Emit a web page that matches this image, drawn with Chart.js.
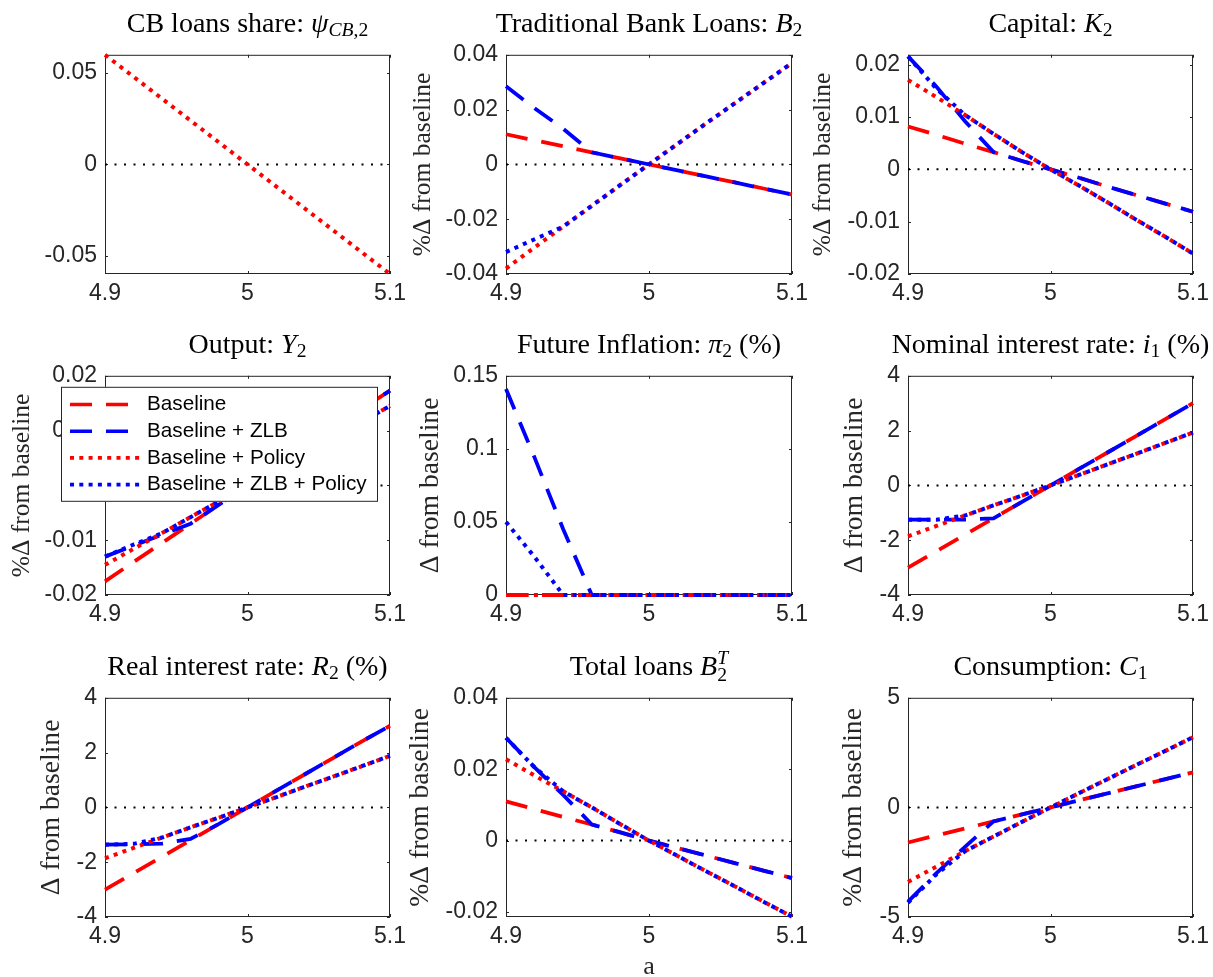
<!DOCTYPE html>
<html>
<head>
<meta charset="utf-8">
<script src="https://cdn.jsdelivr.net/npm/chart.js@4.4.1/dist/chart.umd.min.js"></script>
<style>
	body { margin: 0; background: #fff; width: 1213px; height: 977px; overflow: hidden; position: relative; }
	canvas { position: absolute; }
	.title { position: absolute; width: 600px; height: 28px; text-align: center; white-space: nowrap;
		font: 28px/28px "Liberation Serif", serif; color: #000; }
	.title sub, .title sup { font-size: 70%; vertical-align: baseline; position: relative; line-height: 0; }
	.title sub { top: 0.22em; }
	.title sub.low { top: 0.3em; }
	.title sup { top: -0.54em; margin-left: -0.5em; }
</style>
</head>
<body>
<div id="fig"></div>
<script>
// grid of the parameter a
const xs = [4.90, 4.92, 4.94, 4.96, 4.98, 5.00, 5.02, 5.04, 5.06, 5.08, 5.10];
const xTicks = [4.9, 5, 5.1];
const zeroLine = [0, 0, 0, 0, 0, 0, 0, 0, 0, 0, 0];
const seriesNames = ['Baseline', 'Baseline + ZLB', 'Baseline + Policy', 'Baseline + ZLB + Policy'];

// CB loans share
const psiPolicy = [0.06, 0.048, 0.036, 0.024, 0.012, 0, -0.012, -0.024, -0.036, -0.048, -0.06];
const psiTicks = [-0.05, 0, 0.05];

// traditional bank loans
const bankBase = [0.011, 0.0088, 0.0066, 0.0044, 0.0022, 0, -0.0022, -0.0044, -0.0066, -0.0088, -0.011];
const bankZlb = [0.0285, 0.0205, 0.013, 0.0044, 0.0022, 0, -0.0022, -0.0044, -0.0066, -0.0088, -0.011];
const bankPolicy = [-0.038, -0.0303, -0.0227, -0.0151, -0.0075, 0, 0.0075, 0.015, 0.0223, 0.0297, 0.037];
const bankZlbPolicy = [-0.032, -0.0273, -0.0227, -0.0151, -0.0075, 0, 0.0075, 0.015, 0.0223, 0.0297, 0.037];
const bankTicks = [-0.04, -0.02, 0, 0.02, 0.04];

// capital
const capBase = [0.0082, 0.0066, 0.0049, 0.0033, 0.0016, 0, -0.0016, -0.0033, -0.0049, -0.0065, -0.0081];
const capZlb = [0.0216, 0.0158, 0.0092, 0.0033, 0.0016, 0, -0.0016, -0.0033, -0.0049, -0.0065, -0.0081];
const capPolicy = [0.0171, 0.0138, 0.0104, 0.0068, 0.0033, 0, -0.0031, -0.0063, -0.0096, -0.0128, -0.0161];
const capZlbPolicy = [0.0216, 0.0154, 0.0104, 0.0068, 0.0033, 0, -0.0031, -0.0063, -0.0096, -0.0128, -0.0161];
const capTicks = [-0.02, -0.01, 0, 0.01, 0.02];

// output
const outBase = [-0.0175, -0.014, -0.0105, -0.007, -0.0035, 0, 0.0035, 0.007, 0.0104, 0.0139, 0.0173];
const outZlb = [-0.013, -0.011, -0.009, -0.007, -0.0035, 0, 0.0035, 0.007, 0.0104, 0.0139, 0.0173];
const outPolicy = [-0.0145, -0.0116, -0.0087, -0.0058, -0.0029, 0, 0.0029, 0.0058, 0.0087, 0.0116, 0.0145];
const outZlbPolicy = [-0.013, -0.0108, -0.0087, -0.0058, -0.0029, 0, 0.0029, 0.0058, 0.0087, 0.0116, 0.0145];
const outTicks = [-0.02, -0.01, 0, 0.01, 0.02];

// future inflation
const infBase = [0, 0, 0, 0, 0, 0, 0, 0, 0, 0, 0];
const infZlb = [0.141, 0.094, 0.045, 0, 0, 0, 0, 0, 0, 0, 0];
const infPolicy = [0, 0, 0, 0, 0, 0, 0, 0, 0, 0, 0];
const infZlbPolicy = [0.05, 0.026, 0, 0, 0, 0, 0, 0, 0, 0, 0];
const infTicks = [0, 0.05, 0.1, 0.15];

// nominal interest rate
const nomBase = [-3, -2.4, -1.8, -1.2, -0.6, 0, 0.6, 1.2, 1.8, 2.4, 3];
const nomZlb = [-1.25, -1.25, -1.25, -1.2, -0.6, 0, 0.6, 1.2, 1.8, 2.4, 3];
const nomPolicy = [-1.86, -1.48, -1.1, -0.73, -0.37, 0, 0.38, 0.77, 1.15, 1.54, 1.93];
const nomZlbPolicy = [-1.25, -1.25, -1.1, -0.73, -0.37, 0, 0.38, 0.77, 1.15, 1.54, 1.93];
const rateTicks = [-4, -2, 0, 2, 4];

// real interest rate
const realBase = [-3, -2.4, -1.8, -1.2, -0.6, 0, 0.6, 1.2, 1.8, 2.4, 2.98];
const realZlb = [-1.36, -1.35, -1.32, -1.15, -0.6, 0, 0.6, 1.2, 1.8, 2.4, 2.98];
const realPolicy = [-1.86, -1.48, -1.1, -0.73, -0.37, 0, 0.37, 0.75, 1.12, 1.5, 1.88];
const realZlbPolicy = [-1.36, -1.33, -1.1, -0.73, -0.37, 0, 0.37, 0.75, 1.12, 1.5, 1.88];

// total loans
const totBase = [0.011, 0.0088, 0.0066, 0.0045, 0.0023, 0, -0.0021, -0.0042, -0.0063, -0.0084, -0.0105];
const totZlb = [0.0288, 0.0205, 0.0128, 0.0045, 0.0023, 0, -0.0021, -0.0042, -0.0063, -0.0084, -0.0105];
const totPolicy = [0.0228, 0.0182, 0.0138, 0.0093, 0.0046, 0, -0.0043, -0.0086, -0.0128, -0.0171, -0.0213];
const totZlbPolicy = [0.0288, 0.0205, 0.0138, 0.0093, 0.0046, 0, -0.0043, -0.0086, -0.0128, -0.0171, -0.0213];
const totTicks = [-0.02, 0, 0.02, 0.04];

// consumption
const consBase = [-1.6, -1.28, -0.96, -0.64, -0.32, 0, 0.32, 0.64, 0.96, 1.28, 1.6];
const consZlb = [-4.3, -3.0, -1.8, -0.64, -0.32, 0, 0.32, 0.64, 0.96, 1.28, 1.6];
const consPolicy = [-3.4, -2.7, -2.0, -1.33, -0.66, 0, 0.65, 1.29, 1.93, 2.56, 3.2];
const consZlbPolicy = [-4.35, -3.05, -2.0, -1.33, -0.66, 0, 0.65, 1.29, 1.93, 2.56, 3.2];
const consTicks = [-5, 0, 5];

const pctLabel = '%\u0394 from baseline';
const absLabel = '\u0394 from baseline';

const panels = [
	{ title: 'CB loans share: <i>\u03c8</i><sub><i>CB</i>,2</sub>', lines: [null, null, psiPolicy, null],
		yMin: -0.06, yMax: 0.06, yTicks: psiTicks, yLabel: '', labelSize: 0, labelOffset: 0 },
	{ title: 'Traditional Bank Loans: <i>B</i><sub>2</sub>', lines: [bankBase, bankZlb, bankPolicy, bankZlbPolicy],
		yMin: -0.04, yMax: 0.04, yTicks: bankTicks, yLabel: pctLabel, labelSize: 25.5, labelOffset: 83 },
	{ title: 'Capital: <i>K</i><sub>2</sub>', lines: [capBase, capZlb, capPolicy, capZlbPolicy],
		yMin: -0.02, yMax: 0.0219, yTicks: capTicks, yLabel: pctLabel, labelSize: 25.5, labelOffset: 85 },
	{ title: 'Output: <i>Y</i><sub>2</sub>', lines: [outBase, outZlb, outPolicy, outZlbPolicy],
		yMin: -0.02, yMax: 0.02, yTicks: outTicks, yLabel: pctLabel, labelSize: 25.5, labelOffset: 83 },
	{ title: 'Future Inflation: <i>\u03c0</i><sub>2</sub> (%)', lines: [infBase, infZlb, infPolicy, infZlbPolicy],
		yMin: 0, yMax: 0.15, yTicks: infTicks, yLabel: absLabel, labelSize: 27.6, labelOffset: 75 },
	{ title: 'Nominal interest rate: <i>i</i><sub>1</sub> (%)', lines: [nomBase, nomZlb, nomPolicy, nomZlbPolicy],
		yMin: -4, yMax: 4, yTicks: rateTicks, yLabel: absLabel, labelSize: 27.6, labelOffset: 53 },
	{ title: 'Real interest rate: <i>R</i><sub>2</sub> (%)', lines: [realBase, realZlb, realPolicy, realZlbPolicy],
		yMin: -4, yMax: 4, yTicks: rateTicks, yLabel: absLabel, labelSize: 27.6, labelOffset: 53 },
	{ title: 'Total loans <i>B</i><sub class="low">2</sub><sup><i>T</i></sup>', lines: [totBase, totZlb, totPolicy, totZlbPolicy],
		yMin: -0.0214, yMax: 0.04, yTicks: totTicks, yLabel: pctLabel, labelSize: 27.6, labelOffset: 85, xTitle: 'a' },
	{ title: 'Consumption: <i>C</i><sub>1</sub>', lines: [consBase, consZlb, consPolicy, consZlbPolicy],
		yMin: -5, yMax: 5, yTicks: consTicks, yLabel: pctLabel, labelSize: 27.6, labelOffset: 54 }
];

const lineColors = ['#ff0000', '#0000ff', '#ff0000', '#0000ff'];
const lineDashes = [[22, 14], [22, 14], [4, 5.3], [4, 5.3]];
const lineWidths = [3.8, 3.8, 4, 4];

const colLeft = [105, 506, 908];
const colWidth = [285, 286, 285];
const rowTop = [49, 370, 692];
const PLOT_H = 225;
const PAD_T = 16, PAD_R = 26;

function series(ys) {
	return xs.map((x, i) => ({ x: x, y: ys[i] }));
}

// MATLAB style box with inward ticks on all four sides
const frame = {
	id: 'frame',
	beforeDatasetsDraw(chart) {
		const { ctx, chartArea: a, scales: { x, y } } = chart;
		ctx.save();
		ctx.strokeStyle = '#262626';
		ctx.lineWidth = 1;
		ctx.beginPath();
		x.ticks.forEach((t) => {
			const px = Math.round(x.getPixelForValue(t.value)) + 0.5;
			ctx.moveTo(px, a.top); ctx.lineTo(px, a.top + 3);
			ctx.moveTo(px, a.bottom); ctx.lineTo(px, a.bottom - 3);
		});
		y.ticks.forEach((t) => {
			const py = Math.round(y.getPixelForValue(t.value)) + 0.5;
			ctx.moveTo(a.left, py); ctx.lineTo(a.left + 3, py);
			ctx.moveTo(a.right, py); ctx.lineTo(a.right - 3, py);
		});
		ctx.stroke();
		ctx.strokeRect(a.left + 0.5, a.top + 0.5, a.width - 1, a.height - 1);
		ctx.restore();
	}
};

// legend box sitting over the output panel
const legendBox = {
	id: 'legendBox',
	afterDraw(chart) {
		const { ctx, chartArea: a } = chart;
		const bx = a.left - 44, by = a.top + 11, bw = 317, bh = 115;
		ctx.save();
		ctx.fillStyle = '#fff';
		ctx.fillRect(bx, by, bw, bh);
		ctx.strokeStyle = '#262626';
		ctx.lineWidth = 1;
		ctx.strokeRect(bx + 0.5, by + 0.5, bw - 1, bh - 1);
		ctx.font = '20.7px "Liberation Sans"';
		ctx.textBaseline = 'middle';
		chart.data.datasets.filter((d) => d.label).forEach((d, i) => {
			const yy = by + 17.7 + i * 26.7;
			ctx.setLineDash(d.borderDash);
			ctx.strokeStyle = d.borderColor;
			ctx.lineWidth = 3.6;
			ctx.beginPath();
			ctx.moveTo(bx + 9, yy);
			ctx.lineTo(bx + 79, yy);
			ctx.stroke();
			ctx.setLineDash([]);
			ctx.fillStyle = '#000';
			ctx.fillText(d.label, bx + 86, yy);
		});
		ctx.restore();
	}
};

Chart.defaults.font.family = '"Liberation Sans", Arial, sans-serif';
Chart.defaults.font.size = 23;
Chart.defaults.color = '#262626';

const fig = document.getElementById('fig');

panels.forEach((p, k) => {
	const col = k % 3, row = Math.floor(k / 3);
	const L = colLeft[col], T = rowTop[row], PW = colWidth[col];
	const W = p.yLabel ? Math.round(p.labelOffset + p.labelSize * 0.6) : 72;
	const H = p.xTitle ? 66 : 40;

	const canvas = document.createElement('canvas');
	canvas.width = W + PW + PAD_R;
	canvas.height = PAD_T + PLOT_H + H;
	canvas.style.left = (L - W) + 'px';
	canvas.style.top = (T - PAD_T) + 'px';
	fig.appendChild(canvas);

	const title = document.createElement('div');
	title.className = 'title';
	title.innerHTML = p.title;
	title.style.left = (L + PW / 2 - 300) + 'px';
	title.style.top = (T - 40) + 'px';
	fig.appendChild(title);

	const datasets = [{
		data: series(zeroLine), borderColor: '#000', borderWidth: 2, borderDash: [2, 7.5], order: 10
	}];
	p.lines.forEach((ys, i) => {
		if (!ys) return;
		datasets.push({
			label: seriesNames[i],
			data: series(ys),
			borderColor: lineColors[i],
			borderDash: lineDashes[i],
			borderWidth: lineWidths[i],
			clip: 3,
			order: 4 - i
		});
	});

	new Chart(canvas, {
		type: 'line',
		data: { datasets: datasets },
		options: {
			responsive: false,
			animation: false,
			events: [],
			layout: { padding: { left: 0, top: PAD_T, right: PAD_R, bottom: 0 } },
			plugins: { legend: { display: false }, tooltip: { enabled: false } },
			elements: { point: { radius: 0 }, line: { tension: 0, fill: false } },
			scales: {
				x: {
					type: 'linear', min: 4.9, max: 5.1,
					grid: { display: false, drawTicks: false },
					border: { display: false },
					ticks: { padding: 6, autoSkip: false, maxRotation: 0, callback: (v) => String(v) },
					afterBuildTicks: (s) => { s.ticks = xTicks.map((v) => ({ value: v })); },
					afterFit: (s) => { s.height = H; },
					title: {
						display: !!p.xTitle, text: p.xTitle || '', padding: 0, color: '#262626',
						font: { family: '"Liberation Serif", serif', size: 26 }
					}
				},
				y: {
					type: 'linear', min: p.yMin, max: p.yMax,
					grid: { display: false, drawTicks: false },
					border: { display: false },
					ticks: { padding: 8, autoSkip: false, callback: (v) => String(v) },
					afterBuildTicks: (s) => { s.ticks = p.yTicks.map((v) => ({ value: v })); },
					afterFit: (s) => { s.width = W; },
					title: {
						display: !!p.yLabel, text: p.yLabel, padding: 0, color: '#262626',
						font: { family: '"Liberation Serif", serif', size: p.labelSize || 25 }
					}
				}
			}
		},
		plugins: k === 3 ? [frame, legendBox] : [frame]
	});
});
</script>
</body>
</html>
